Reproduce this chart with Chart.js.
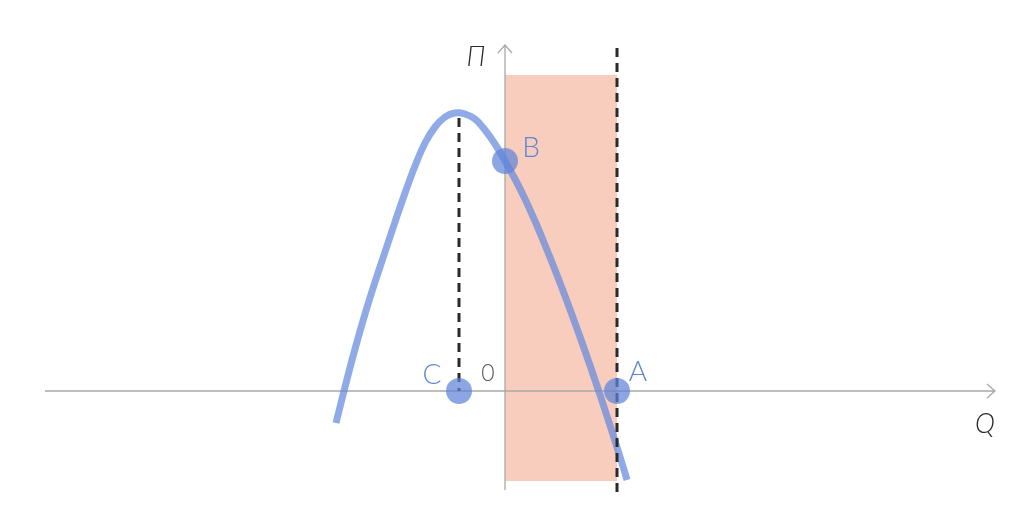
<!DOCTYPE html>
<html>
<head>
<meta charset="utf-8">
<script src="https://cdn.jsdelivr.net/npm/chart.js@4"></script>
<style>
  html, body { margin: 0; padding: 0; background: #fff; }
  canvas { display: block; }
</style>
</head>
<body>
<canvas id="chart" width="1024" height="528"></canvas>
<script>
// profit curve (Q, Π)
const curveQ  = [-16.9, -16, -15, -14, -13, -12, -11, -10, -9, -8, -7, -6, -5, -4, -3, -2, -1, 0,
                 1, 2, 3, 4, 5, 6, 7, 8, 9, 10, 11, 12, 12.2];
const curvePi = [-3.2, 0.4, 4.2, 7.7, 10.9, 13.9, 16.9, 19.8, 22.5, 24.8, 26.4, 27.4, 27.8, 27.7, 27.2, 26.1, 24.7, 23.0,
                 21.2, 19.2, 17.0, 14.6, 12.1, 9.5, 6.8, 4.0, 1.1, -1.9, -5.0, -8.2, -8.9];

// marked points
const pointNames = ['C', 'B', 'A'];
const pointQ  = [-4.6, 0, 11.2];
const pointPi = [0, 23.0, 0];

// shaded band
const bandQ  = [0, 11.2];
const bandPi = [-9.0, 31.6];

// dashed guides
const guideCQ = [-4.6, -4.6], guideCPi = [27.3, 0];
const guideAQ = [11.2, 11.2], guideAPi = [-10.1, 34.6];

// axes extent
const axisQ  = [-46, 49];
const axisPi = [-9.9, 34.6];

const toXY = (qs, ps) => qs.map((q, i) => ({x: q, y: ps[i]}));

const ctx = document.getElementById('chart');

const decor = {
  id: 'decor',
  beforeDatasetsDraw(chart) {
    const {ctx, scales: {x, y}} = chart;
    ctx.save();
    // band
    ctx.fillStyle = 'rgb(248, 205, 189)';
    const x0 = x.getPixelForValue(bandQ[0]), x1 = x.getPixelForValue(bandQ[1]);
    const y0 = y.getPixelForValue(bandPi[1]), y1 = y.getPixelForValue(bandPi[0]);
    ctx.fillRect(x0, y0, x1 - x0, y1 - y0);

    // axes
    ctx.strokeStyle = '#a8a8a8';
    ctx.lineWidth = 1.3;
    const ox = x.getPixelForValue(0), oy = y.getPixelForValue(0);
    const xl = x.getPixelForValue(axisQ[0]), xr = x.getPixelForValue(axisQ[1]);
    const yb = y.getPixelForValue(axisPi[0]), yt = y.getPixelForValue(axisPi[1]);
    ctx.beginPath();
    ctx.moveTo(xl, oy); ctx.lineTo(xr, oy);
    ctx.moveTo(xr - 8, oy - 7); ctx.lineTo(xr, oy); ctx.lineTo(xr - 8, oy + 7);
    ctx.moveTo(ox, yb); ctx.lineTo(ox, yt);
    ctx.moveTo(ox - 7, yt + 8); ctx.lineTo(ox, yt); ctx.lineTo(ox + 7, yt + 8);
    ctx.stroke();
    ctx.restore();
  },
  afterDraw(chart) {
    const {ctx, scales: {x, y}} = chart;
    ctx.save();
    ctx.textAlign = 'center';
    ctx.textBaseline = 'middle';

    ctx.fillStyle = '#2b2b2b';
    ctx.font = 'italic 300 27px Lato, "Open Sans", sans-serif';
    ctx.fillText('Π', x.getPixelForValue(-2.9), y.getPixelForValue(33.4));
    ctx.fillText('Q', x.getPixelForValue(48.0), y.getPixelForValue(-3.3));

    ctx.fillStyle = '#555';
    ctx.font = '300 23px Lato, "Open Sans", sans-serif';
    ctx.fillText('0', x.getPixelForValue(-1.7), y.getPixelForValue(1.7));

    ctx.fillStyle = '#5f86d6';
    ctx.font = '300 28px Lato, "Open Sans", sans-serif';
    const offs = {C: [-2.7, 1.6], B: [2.6, 1.3], A: [2.1, 1.9]};
    pointNames.forEach((n, i) => {
      ctx.fillText(n, x.getPixelForValue(pointQ[i] + offs[n][0]), y.getPixelForValue(pointPi[i] + offs[n][1]));
    });
    ctx.restore();
  }
};

new Chart(ctx, {
  type: 'line',
  data: {
    datasets: [
      {
        label: 'points',
        data: toXY(pointQ, pointPi),
        showLine: false,
        pointRadius: 13,
        pointBorderWidth: 0,
        pointBackgroundColor: 'rgba(96, 132, 218, 0.72)',
        order: 1
      },
      {
        label: 'guide C',
        data: toXY(guideCQ, guideCPi),
        borderColor: '#2a2a2a',
        borderWidth: 3,
        borderDash: [9, 6],
        pointRadius: 0,
        order: 2
      },
      {
        label: 'guide A',
        data: toXY(guideAQ, guideAPi),
        borderColor: '#2a2a2a',
        borderWidth: 3,
        borderDash: [9, 6],
        pointRadius: 0,
        order: 2
      },
      {
        label: 'profit',
        data: toXY(curveQ, curvePi),
        borderColor: 'rgba(100, 137, 220, 0.72)',
        borderWidth: 7,
        tension: 0.4,
        pointRadius: 0,
        borderCapStyle: 'butt',
        order: 3
      }
    ]
  },
  options: {
    responsive: false,
    animation: false,
    layout: { padding: 0, autoPadding: false },
    plugins: { legend: { display: false }, tooltip: { enabled: false } },
    scales: {
      x: { type: 'linear', min: -50.5, max: 51.9, display: false },
      y: { type: 'linear', min: -13.7, max: 39.1, display: false }
    }
  },
  plugins: [decor]
});
</script>
</body>
</html>
